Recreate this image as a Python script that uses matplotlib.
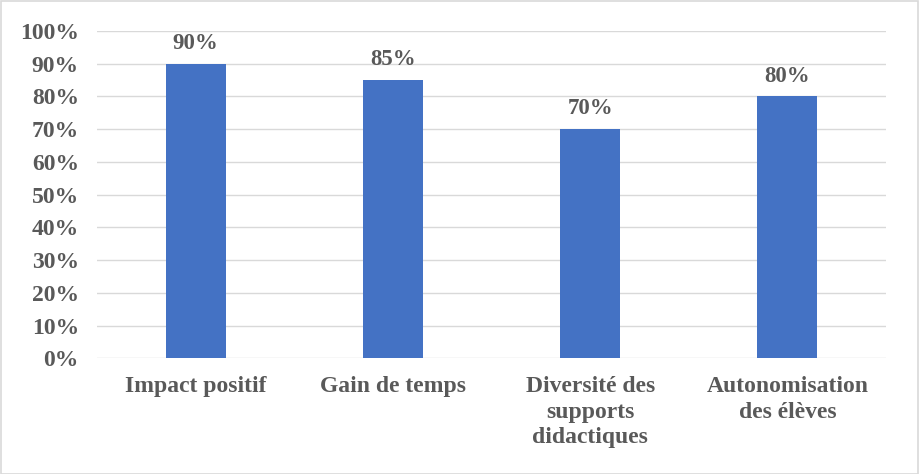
import matplotlib
matplotlib.use("Agg")
import matplotlib.pyplot as plt
from matplotlib.patches import Rectangle

categories = ["Impact positif", "Gain de temps", "Diversité des\nsupports\ndidactiques", "Autonomisation\ndes élèves"]
values = [0.90, 0.85, 0.70, 0.80]
yticks = [i / 10 for i in range(11)]
ytick_labels = [f"{i*10}%" for i in range(11)]

plt.rcParams['font.family'] = ['Liberation Serif', 'DejaVu Serif']
txt = '#595959'

fig = plt.figure(figsize=(9.19, 4.74), dpi=100)
ax = fig.add_axes([97/919, 1 - 358.3/474, (886-97)/919, (358.3-31)/474])

x = list(range(len(categories)))
bars = ax.bar(x, values, width=0.305, color='#4472C4', zorder=3)
ax.set_xlim(-0.5, 3.5)
ax.set_ylim(0, 1.0)
ax.set_yticks(yticks)
ax.set_yticklabels(ytick_labels, fontsize=17, fontweight='bold', color=txt)
ax.set_xticks(x)
ax.set_xticklabels(categories, fontsize=17, fontweight='bold', color=txt, linespacing=1.27, va='top')
ax.tick_params(axis='both', length=0)
ax.tick_params(axis='x', pad=13)
ax.tick_params(axis='y', pad=13)
ax.grid(axis='y', color='#D9D9D9', linewidth=1, zorder=0)
for s in ax.spines.values():
    s.set_visible(False)

for xi, v in zip(x, values):
    ax.annotate(f"{int(round(v*100))}%", (xi, v), xytext=(0, 7), textcoords='offset points',
                ha='center', va='bottom', fontsize=16.5, fontweight='bold', color=txt, clip_on=False)

fig.patches.append(Rectangle((0.5/919, 0.5/474), 1 - 1.5/919, 1 - 1.5/474, transform=fig.transFigure,
                             fill=False, edgecolor='#D9D9D9', linewidth=1.2))
fig.savefig('out.png', dpi=100)
